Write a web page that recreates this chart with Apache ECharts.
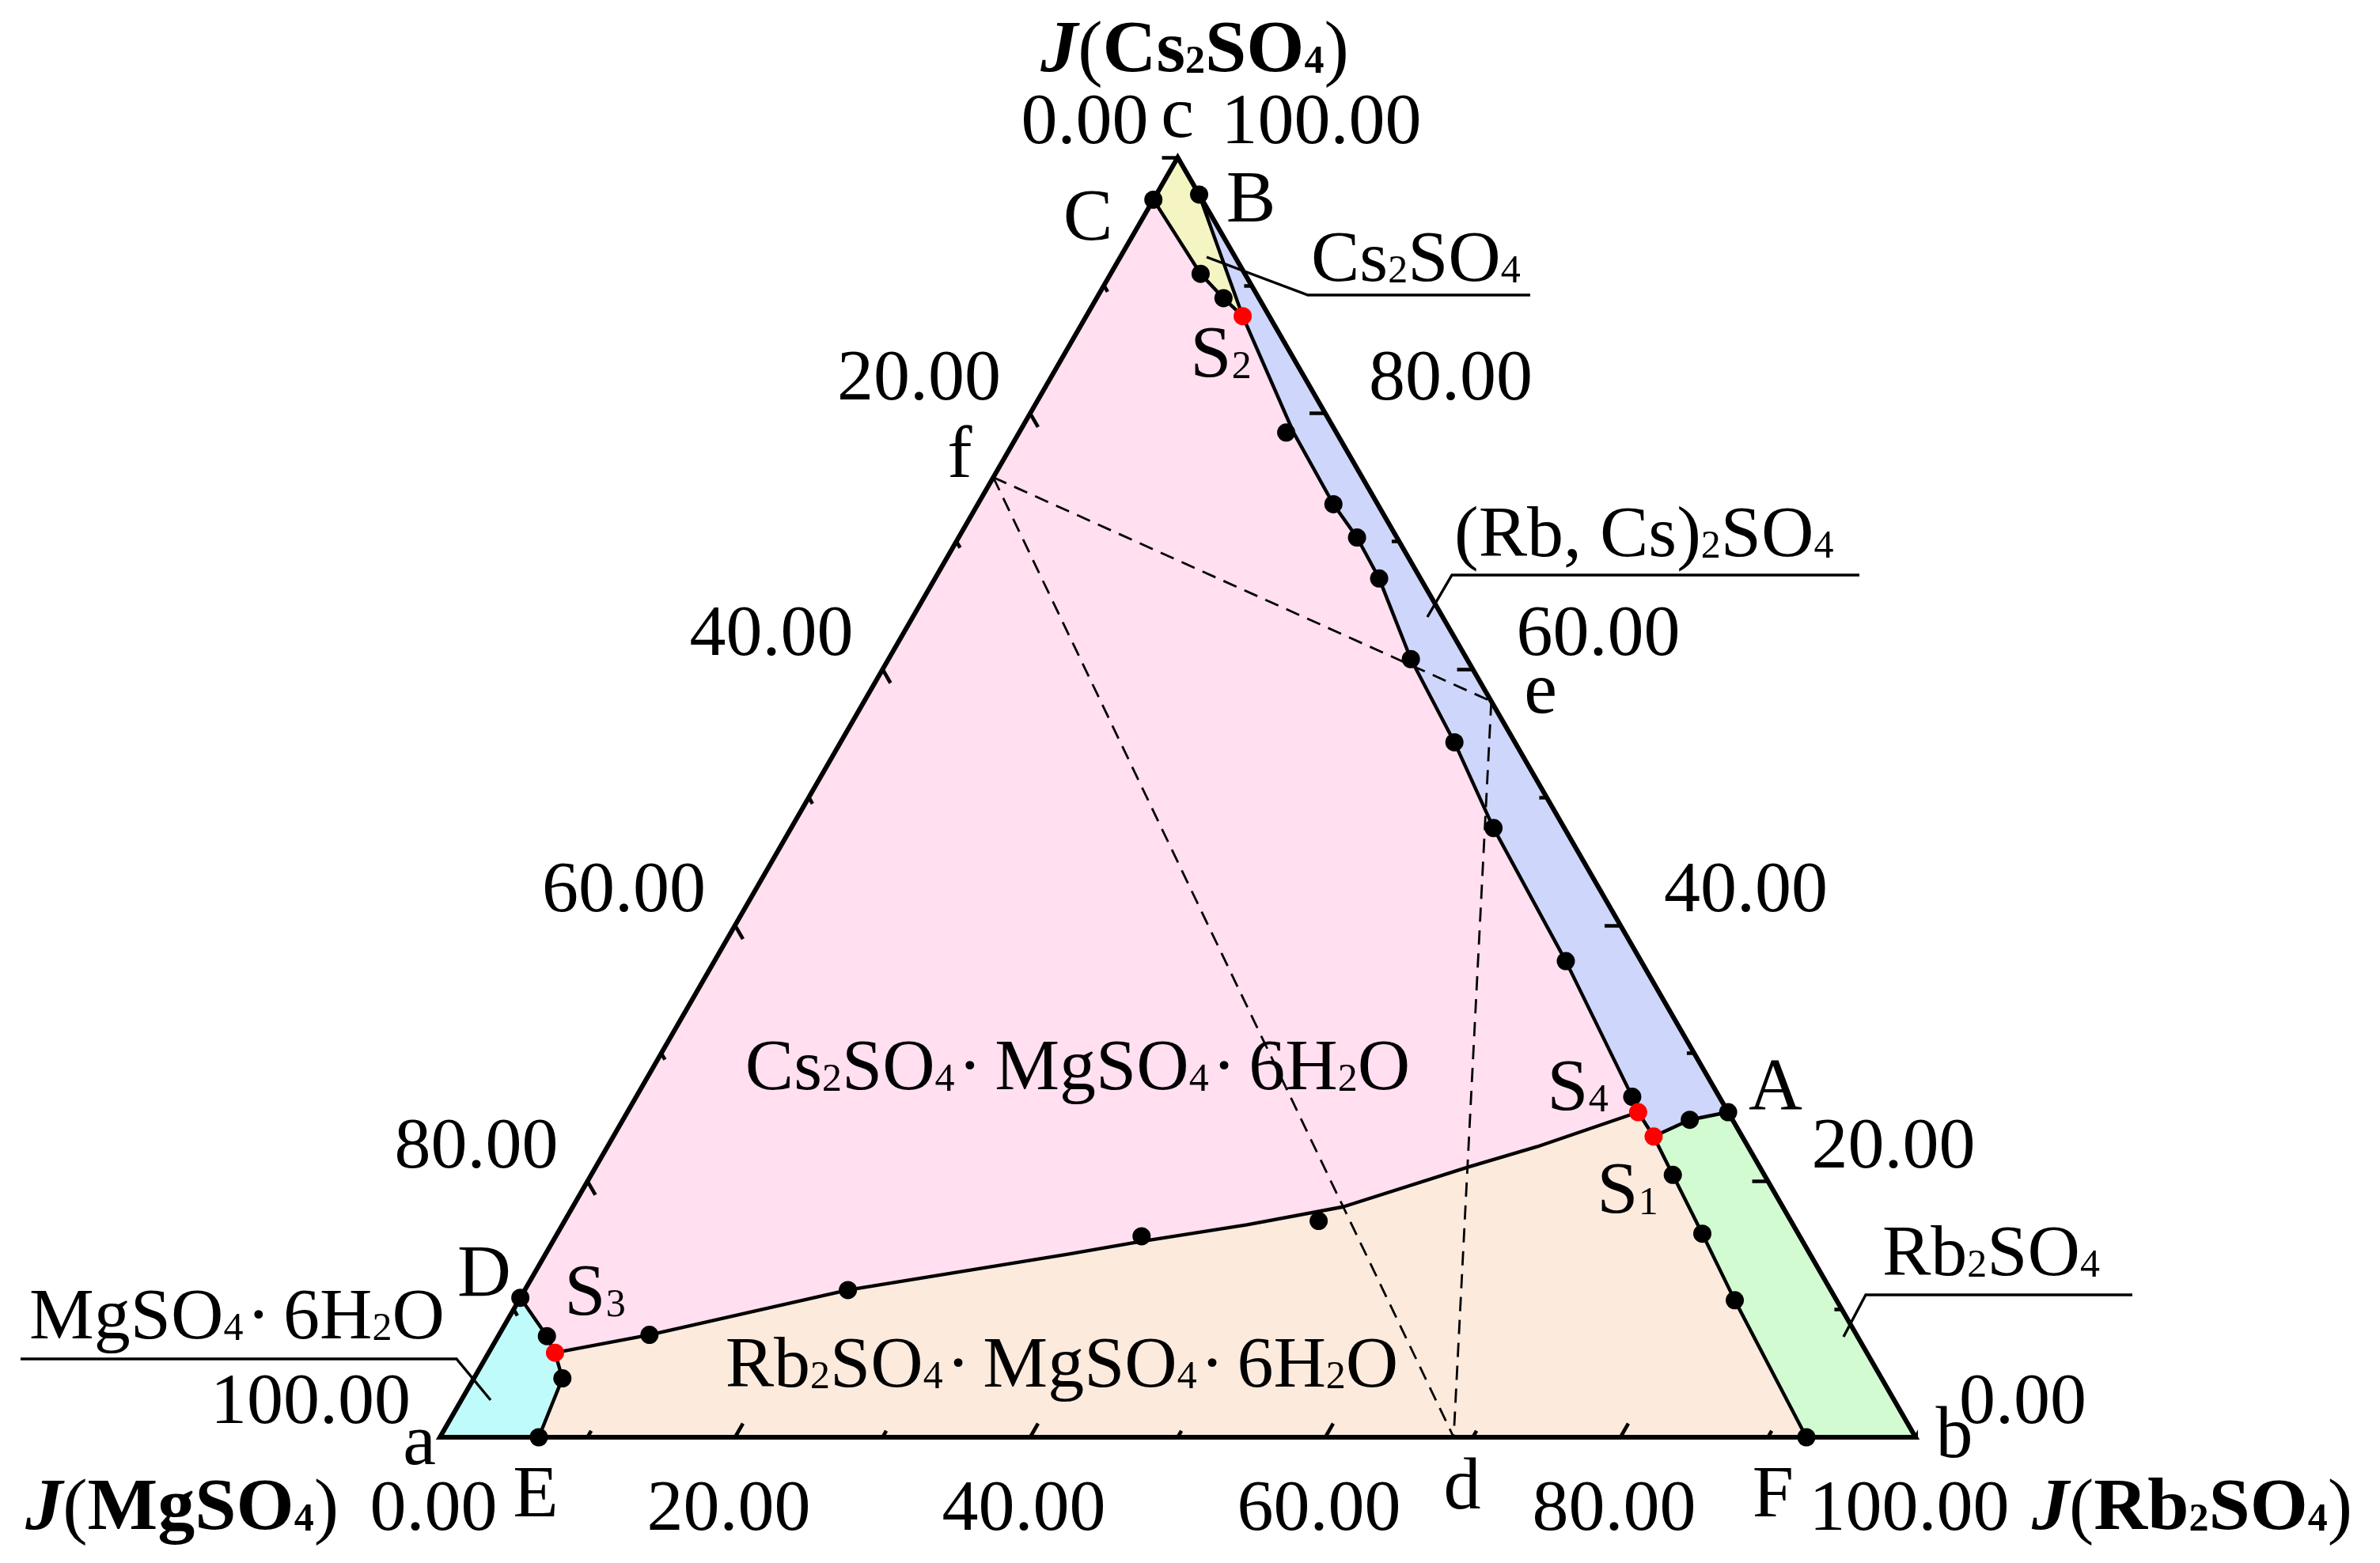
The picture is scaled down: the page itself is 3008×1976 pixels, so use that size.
<!DOCTYPE html>
<html><head><meta charset="utf-8">
<script src="https://cdn.jsdelivr.net/npm/echarts@6/dist/echarts.min.js"></script>
<style>html,body{margin:0;padding:0;background:#fff}#c{width:3008px;height:1976px}</style>
</head><body><div id="c"></div>
<script>
// Compositions are [J(Rb2SO4), J(Cs2SO4)] in %; J(MgSO4) = 100 - both.
const vertexA = [0, 0];      // MgSO4 corner (a)
const vertexB = [100, 0];    // Rb2SO4 corner (b)
const vertexC = [0, 100];    // Cs2SO4 corner (c)
const singlePoints = { A:[74.6,25.4], B:[2.9,97.1], C:[0,96.7], D:[0,10.9], E:[6.7,0], F:[92.6,0] };
const invariantPoints = { S1:[70.5,23.5], S2:[10.6,87.6], S3:[4.5,6.6], S4:[68.5,25.4] };
const pointsCS2  = [[6.1,90.9],[8.6,89.0]];
const pointsS2S4 = [[18.1,78.5],[24.1,72.9],[27.0,70.3],[30.1,67.1],[35.4,60.8],[41.6,54.3],[47.6,47.6],[57.7,37.2],[67.5,26.6]];
const pointsAS1  = [[72.3,24.8]];
const pointsS1F  = [[73.3,20.5],[77.6,15.9],[82.4,10.7]];
const pointsDS3  = [[3.3,7.9]];
const pointsS3E  = [[6.0,4.6]];
const pointsS3S4 = [[10.2,8.0],[21.9,11.5],[39.7,15.7],[51.1,16.9]];
const curveS2S4  = [[18.6,78.5],[24.1,72.9],[27.0,70.3],[30.1,67.1],[35.4,60.8],[41.6,54.3],[47.6,47.6],[57.7,37.2],[67.5,26.6]];
const curveS3S4  = [[10.2,8.0],[21.9,11.5],[35.4,14.3],[39.9,15.3],[46.4,16.6],[52.2,18.0],[59.1,21.1],[63.0,22.7]];
const tiePoints  = { d:[68.7,0], e:[42.5,57.5], f:[0,75.0] };
const tickValues = [0,10,20,30,40,50,60,70,80,90,100];
const labelValues = [0,20,40,60,80,100];

const SQ = Math.sqrt(3)/2;
const cart = p => [p[0] + p[1]/2, p[1]*SQ];
const rev = a => a.slice().reverse();
const P = Object.assign({}, singlePoints, invariantPoints);
const FONT = 'Liberation Serif';

const regions = [
  { color:'#F5F5C3', poly:[vertexC, P.B, P.S2, ...rev(pointsCS2), P.C] },
  { color:'#CED6FB', poly:[P.B, P.A, ...pointsAS1, P.S1, P.S4, ...rev(curveS2S4), P.S2] },
  { color:'#D2FBD2', poly:[P.A, vertexB, P.F, ...rev(pointsS1F), P.S1, ...rev(pointsAS1)] },
  { color:'#FCEADD', poly:[P.E, P.F, ...rev(pointsS1F), P.S1, P.S4, ...rev(curveS3S4), P.S3, ...pointsS3E] },
  { color:'#FFDFF0', poly:[P.C, P.D, ...pointsDS3, P.S3, ...curveS3S4, P.S4, ...rev(curveS2S4), P.S2, ...rev(pointsCS2)] },
  { color:'#C0FBFB', poly:[vertexA, P.E, ...rev(pointsS3E), P.S3, ...rev(pointsDS3), P.D] }
];
const boundaries = [
  [P.C, ...pointsCS2, P.S2],
  [P.B, P.S2],
  [P.S2, ...curveS2S4, P.S4],
  [P.A, ...pointsAS1, P.S1],
  [P.S4, P.S1],
  [P.S1, ...pointsS1F, P.F],
  [P.D, ...pointsDS3, P.S3],
  [P.S3, ...pointsS3E, P.E],
  [P.S3, ...curveS3S4, P.S4]
];
const dashed = [[tiePoints.f, tiePoints.e],[tiePoints.f, tiePoints.d],[tiePoints.e, tiePoints.d]];

function polySeries(poly, style, z){
  const pts = poly.map(cart);
  return { type:'custom', coordinateSystem:'cartesian2d', silent:true, z:z, clip:false,
    data:[pts[0]],
    renderItem:(params, api)=>({ type:'polygon', shape:{ points: pts.map(p=>api.coord(p)) }, style: style }) };
}
function tickSegs(){
  const segs = [];
  tickValues.forEach(v=>{
    if (v === 0) return;
    const L = v % 20 === 0 ? 1.07 : 0.5;
    const o1 = cart([v,0]);        segs.push([o1,[o1[0]+0.5*L, o1[1]+SQ*L]]);
    const o2 = cart([100-v, v]);   segs.push([o2,[o2[0]-L, o2[1]]]);
    const o3 = cart([0, 100-v]);   segs.push([o3,[o3[0]+0.5*L, o3[1]-SQ*L]]);
  });
  return segs;
}

const series = [];
regions.forEach(r=>series.push(polySeries(r.poly, {fill:r.color, stroke:r.color, lineWidth:1}, 1)));
dashed.forEach(seg=>series.push({ type:'line', data:seg.map(cart), symbol:'none', silent:true, z:2,
  lineStyle:{ color:'#000', width:2.8, type:[18,11] } }));
boundaries.forEach(b=>series.push({ type:'line', data:b.map(cart), symbol:'none', silent:true, z:3,
  lineStyle:{ color:'#000', width:4.4, cap:'round', join:'round' } }));
series.push(polySeries([vertexA, vertexB, vertexC], {fill:'none', stroke:'#000', lineWidth:6, lineJoin:'miter', miterLimit:10}, 4));
series.push({ type:'lines', coordinateSystem:'cartesian2d', silent:true, z:4, polyline:false,
  data: tickSegs().map(s=>({coords:s})), lineStyle:{ color:'#000', width:4.6, opacity:1, curveness:0 } });
const blackPts = [...Object.values(singlePoints), ...pointsCS2, ...pointsS2S4, ...pointsAS1, ...pointsS1F, ...pointsDS3, ...pointsS3E, ...pointsS3S4];
series.push({ type:'scatter', data: blackPts.map(cart), symbolSize:23, silent:true, z:5, itemStyle:{ color:'#000', opacity:1 } });
series.push({ type:'scatter', data: Object.values(invariantPoints).map(cart), symbolSize:23, silent:true, z:6, itemStyle:{ color:'#FF0000', opacity:1 } });

const chart = echarts.init(document.getElementById('c'), null, { renderer:'canvas', width:3008, height:1976 });
chart.setOption({
  backgroundColor:'#fff', animation:false,
  grid:{ left:556, top:199, width:1865, height:1618 },
  xAxis:{ type:'value', min:0, max:100, show:false },
  yAxis:{ type:'value', min:0, max:100*SQ, show:false },
  series: series
});

const RICH = {
  sub:{ fontFamily:FONT, fontSize:50, height:66, verticalAlign:'bottom', fill:'#000' },
  dot:{ fontFamily:FONT, fontSize:92, padding:[0,16,0,4], fill:'#000' },
  bj:{ fontFamily:FONT, fontSize:94, fontWeight:'bold', fontStyle:'italic', fill:'#000' },
  b:{ fontFamily:FONT, fontSize:94, fontWeight:'bold', fill:'#000' },
  bs:{ fontFamily:FONT, fontSize:50, height:67, fontWeight:'bold', verticalAlign:'bottom', fill:'#000' }
};
function T(text, x, y, align, size){
  const fs = size || 92;
  return { type:'text', x:x, y:y, silent:true, z:100,
    style:{ text:text, fontFamily:FONT, fontSize:fs, lineHeight:fs, fill:'#000', align:align||'center', verticalAlign:'middle', rich:RICH } };
}
function L(points){
  return { type:'polyline', silent:true, z:99, shape:{ points:points }, style:{ stroke:'#000', lineWidth:3.4, fill:null } };
}
const pix = p => chart.convertToPixel({gridIndex:0}, cart(p));
const G = [];
labelValues.forEach(v=>{
  const txt = v.toFixed(2);
  let p = pix([0, 100-v]);  G.push(T(txt, p[0]-37, p[1]-42, 'right'));
  p = pix([100-v, v]);      G.push(T(txt, p[0]+55, p[1]-42, 'left'));
  p = pix([v, 0]);          G.push(T(txt, p[0]-8, p[1]+93, 'center'));
});
// axis titles
G.push(T('{bj|J}({b|Cs}{bs|2}{b|SO}{bs|4})', 1510, 66, 'center', 94));
G.push(T('{bj|J}({b|MgSO}{bs|4})', 428, 1909, 'right', 94));
G.push(T('{bj|J}({b|Rb}{bs|2}{b|SO}{bs|4})', 2568, 1909, 'left', 94));
// vertices
G.push(T('c', 1488, 148, 'center', 94));
G.push(T('a', 530, 1826, 'center', 94));
G.push(T('b', 2470, 1817, 'center', 94));
// point labels
G.push(T('C', 1375, 278, 'center', 94));
G.push(T('B', 1581, 255, 'center', 94));
G.push(T('S{sub|2}', 1543, 451, 'center', 94));
G.push(T('D', 612, 1613, 'center', 94));
G.push(T('S{sub|3}', 752, 1637, 'center', 94));
G.push(T('E', 677, 1892, 'center', 94));
G.push(T('F', 2241, 1892, 'center', 94));
G.push(T('A', 2244, 1377, 'center', 94));
G.push(T('S{sub|4}', 1994, 1378, 'center', 94));
G.push(T('S{sub|1}', 2057, 1508, 'center', 94));
G.push(T('f', 1213, 578, 'center', 94));
G.push(T('e', 1947, 876, 'center', 94));
G.push(T('d', 1848, 1882, 'center', 94));
// phase labels
G.push(T('Cs{sub|2}SO{sub|4}', 1657, 331, 'left'));
G.push(L([[1525,325],[1653,373],[1934,373]]));
G.push(T('(Rb, Cs){sub|2}SO{sub|4}', 1838, 679, 'left'));
G.push(L([[1804,780],[1835,727],[2350,727]]));
G.push(T('Rb{sub|2}SO{sub|4}', 2379, 1588, 'left'));
G.push(L([[2330,1690],[2358,1637],[2695,1637]]));
G.push(T('MgSO{sub|4}{dot|·}6H{sub|2}O', 37, 1668, 'left'));
G.push(L([[26,1718],[577,1718],[620,1770]]));
G.push(T('Cs{sub|2}SO{sub|4}{dot|·}MgSO{sub|4}{dot|·}6H{sub|2}O', 1362, 1353, 'center'));
G.push(T('Rb{sub|2}SO{sub|4}{dot|·}MgSO{sub|4}{dot|·}6H{sub|2}O', 1342, 1729, 'center'));
chart.setOption({ graphic: G });
</script>
</body></html>
